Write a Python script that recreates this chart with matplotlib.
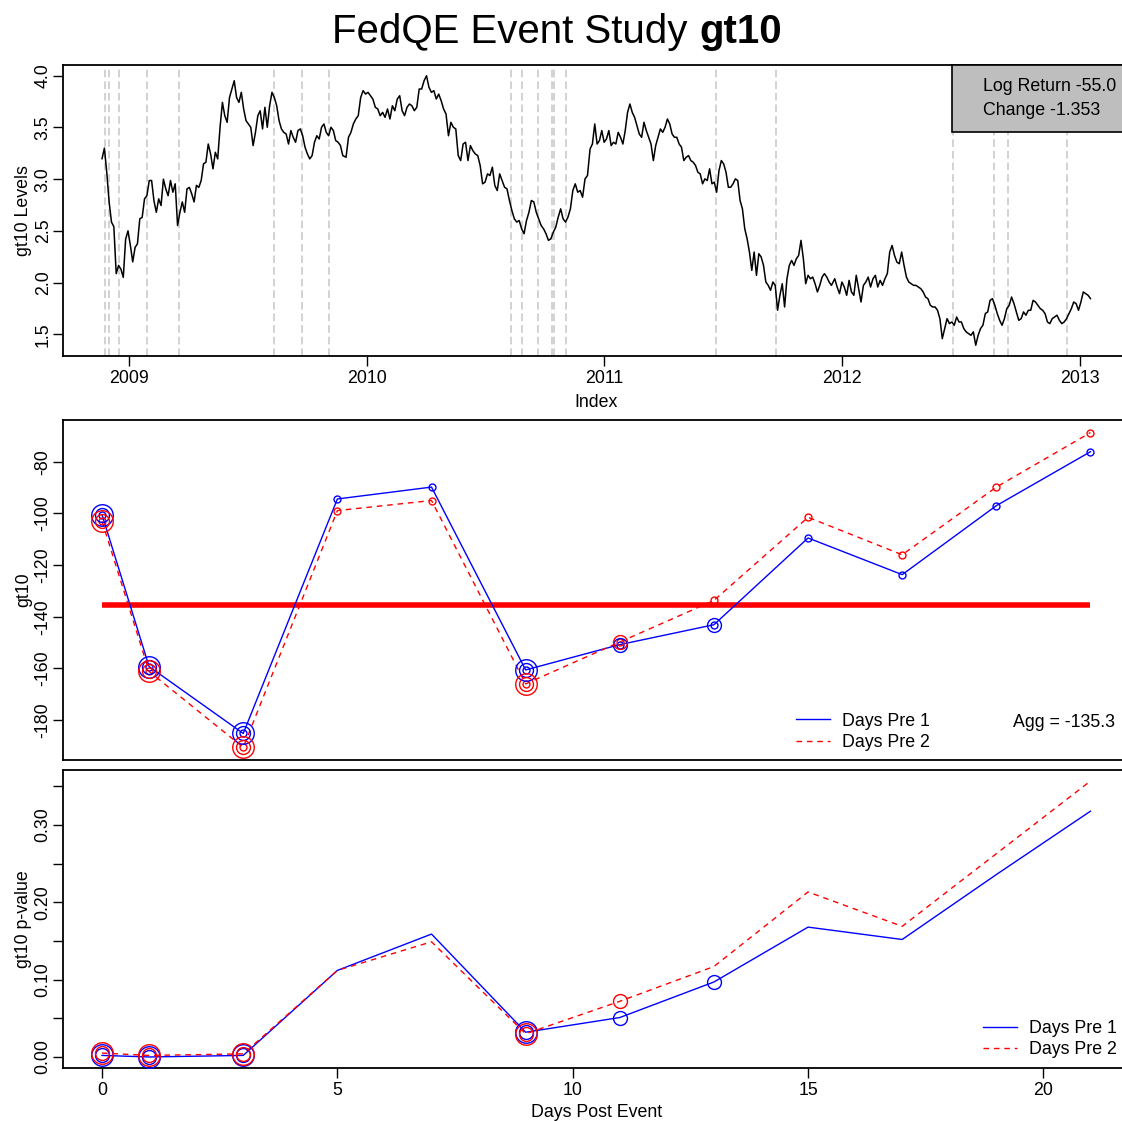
import numpy as np
import pandas as pd
import matplotlib
matplotlib.use("Agg")
import matplotlib.pyplot as plt
import matplotlib.dates as mdates
from matplotlib.lines import Line2D

plt.rcParams["font.family"] = ["Liberation Sans", "DejaVu Sans"]
plt.rcParams["axes.linewidth"] = 1.3

# ------------------------------------------------------------
# gt10 levels, four stretches (each evenly spaced in time)
# ------------------------------------------------------------
levels_a = [3.198, 3.30, 3.067, 2.78, 2.585, 2.54, 2.086, 2.166, 2.13, 2.05,
            2.42, 2.50, 2.36, 2.20, 2.34, 2.375, 2.617, 2.63, 2.81, 2.84,
            2.987, 2.987, 2.79, 2.68, 2.81, 2.745, 3.00, 2.906, 2.84, 2.987,
            2.874, 2.955, 2.552, 2.68, 2.78, 2.68, 2.906, 2.92, 2.858, 2.78,
            2.94, 2.92, 2.987, 3.148, 3.164, 3.34, 3.244, 3.10, 3.26, 3.196,
            3.502, 3.743, 3.614, 3.55, 3.79, 3.872, 3.952, 3.79, 3.743, 3.84,
            3.679, 3.566, 3.534, 3.502, 3.325, 3.453, 3.614, 3.662, 3.486, 3.695,
            3.502, 3.71, 3.84, 3.79, 3.71, 3.566, 3.486, 3.453, 3.437, 3.34,
            3.47, 3.405, 3.357, 3.47, 3.486, 3.42, 3.309, 3.244, 3.196, 3.228,
            3.357, 3.42, 3.389, 3.502, 3.534, 3.453, 3.42, 3.502, 3.47, 3.373,
            3.357, 3.325, 3.228]
levels_b = [3.212, 3.405, 3.453, 3.534, 3.582, 3.614, 3.79, 3.856, 3.823, 3.84,
            3.807, 3.775, 3.695, 3.679, 3.614, 3.646, 3.598, 3.679, 3.582, 3.71,
            3.662, 3.775, 3.807, 3.662, 3.614, 3.695, 3.727, 3.71, 3.662, 3.695,
            3.872, 3.872, 3.952, 4.0, 3.888, 3.84, 3.856, 3.775, 3.823, 3.759,
            3.679, 3.63, 3.42, 3.55, 3.502, 3.486, 3.228, 3.18, 3.34, 3.357,
            3.18, 3.325, 3.276, 3.244, 3.228, 3.132, 2.955, 2.971, 3.051, 3.035,
            3.116, 2.94, 2.89, 3.051, 2.987, 2.922, 2.906, 2.794, 2.697, 2.617,
            2.585, 2.60, 2.52, 2.472, 2.60, 2.68, 2.794, 2.78, 2.68, 2.617,
            2.552, 2.52, 2.472, 2.408, 2.424, 2.488, 2.536, 2.633, 2.713, 2.617,
            2.585, 2.633, 2.713, 2.89, 2.955, 2.874, 2.89, 2.826, 3.003, 3.035]
levels_c = [3.292, 3.34, 3.534, 3.34, 3.373, 3.47, 3.357, 3.389, 3.47, 3.325,
            3.357, 3.34, 3.453, 3.405, 3.34, 3.47, 3.646, 3.727, 3.646, 3.598,
            3.518, 3.437, 3.405, 3.55, 3.47, 3.405, 3.34, 3.18, 3.325, 3.405,
            3.486, 3.453, 3.502, 3.582, 3.534, 3.437, 3.405, 3.405, 3.34, 3.309,
            3.18, 3.212, 3.228, 3.18, 3.164, 3.132, 3.067, 3.051, 2.955, 3.003,
            2.987, 3.10, 2.955, 2.971, 2.874, 3.083, 3.18, 3.148, 3.067, 2.922,
            2.922, 2.955, 3.003, 2.987, 2.794, 2.713, 2.52, 2.424, 2.295, 2.118,
            2.295, 2.07, 2.279, 2.247, 2.166, 2.005, 1.973, 1.925, 2.005, 1.973,
            1.732, 1.877, 1.989, 1.764, 2.037, 2.166, 2.214, 2.166, 2.23, 2.263,
            2.408, 2.23, 1.989, 2.07, 2.037, 2.053, 1.989, 1.909, 1.973, 2.053,
            2.086, 2.053, 2.005, 1.973]
levels_d = [2.037, 1.957, 1.893, 2.005, 1.957, 1.877, 2.021, 1.909, 1.877, 2.07,
            1.941, 1.812, 1.973, 2.005, 2.053, 1.957, 2.037, 2.07, 1.957, 2.021,
            1.973, 2.037, 2.086, 2.295, 2.359, 2.263, 2.198, 2.182, 2.295, 2.166,
            2.053, 2.005, 1.989, 1.973, 1.973, 1.957, 1.941, 1.909, 1.86, 1.844,
            1.78, 1.764, 1.764, 1.732, 1.651, 1.458, 1.555, 1.651, 1.603, 1.619,
            1.587, 1.667, 1.619, 1.619, 1.555, 1.523, 1.507, 1.49, 1.523, 1.394,
            1.49, 1.555, 1.587, 1.70, 1.716, 1.828, 1.844, 1.78, 1.70, 1.635,
            1.587, 1.651, 1.748, 1.78, 1.86, 1.796, 1.716, 1.635, 1.651, 1.716,
            1.684, 1.732, 1.732, 1.828, 1.812, 1.78, 1.748, 1.732, 1.70, 1.619,
            1.603, 1.651, 1.667, 1.684, 1.635, 1.603, 1.619, 1.651, 1.70, 1.748,
            1.812, 1.796, 1.732, 1.812, 1.909, 1.893, 1.877, 1.845]
stretch_spans = [("2008-11-20", "2009-11-25"), ("2009-11-30", "2010-12-06"),
                 ("2010-12-10", "2011-12-16"), ("2011-12-21", "2013-01-17")]

# FedQE announcement dates
event_dates = ["2008-11-25", "2008-12-01", "2008-12-16", "2009-01-28", "2009-03-18",
               "2009-08-12", "2009-09-23", "2009-11-04", "2010-08-10", "2010-08-27",
               "2010-09-21", "2010-10-12", "2010-10-15", "2010-11-03", "2011-06-22",
               "2011-09-21", "2012-06-20", "2012-08-22", "2012-09-13", "2012-12-12"]

# cumulative event response (bp) and p-values by horizon
days_post = [0, 1, 3, 5, 7, 9, 11, 13, 15, 17, 19, 21]
resp_pre1 = [-100.5, -159.3, -185.2, -94.4, -89.8, -160.6, -150.8, -143.1, -109.5, -123.7, -97.0, -76.1]
resp_pre2 = [-103.0, -161.2, -190.6, -98.9, -95.0, -166.0, -149.8, -133.7, -101.5, -116.0, -89.8, -68.7]
pval_pre1 = [0.002, 0.000, 0.002, 0.112, 0.159, 0.032, 0.051, 0.097, 0.168, 0.152, 0.236, 0.318]
pval_pre2 = [0.005, 0.002, 0.004, 0.112, 0.149, 0.030, 0.072, 0.117, 0.2135, 0.169, 0.263, 0.357]
agg = -135.3

series_names = ["Days Pre 1", "Days Pre 2"]
series_colors = ["#0000ff", "#ff0000"]
series_dashes = [None, (4, 3.5)]

W, H = 1122, 1121
FS = 12.8


def px_box(left, top, right, bottom):
    return [left / W, 1 - bottom / H, (right - left) / W, (bottom - top) / H]


def r_lim(lo, hi):
    pad = 0.04 * (hi - lo)
    return lo - pad, hi + pad


def style_axes(ax):
    ax.tick_params(direction="out", length=7, width=1.0, labelsize=FS, color="black")
    ax.tick_params(axis="x", pad=2.9)
    ax.tick_params(axis="y", pad=0.8, labelrotation=90)
    for lab in ax.get_yticklabels():
        lab.set_va("center")
    ax.yaxis.label.set_va("center")
    ax.yaxis.set_label_coords((24 - 62.5) / (1130 - 62.5), 0.5)


levels = np.concatenate([levels_a, levels_b, levels_c, levels_d])
dates = np.concatenate([pd.date_range(s, e, periods=len(v)).values
                        for (s, e), v in zip(stretch_spans,
                                             [levels_a, levels_b, levels_c, levels_d])])
dnum = mdates.date2num(dates)

fig = plt.figure(figsize=(W / 100, H / 100), dpi=100)

# ---- levels with event dates
ax1 = fig.add_axes(px_box(62.5, 65, 1130, 356))
for d in event_dates:
    ax1.axvline(mdates.date2num(np.datetime64(d)), color="#c6c6c6", lw=1.1,
                dashes=(5, 2.6), zorder=1)
ax1.plot(dnum, levels, color="black", lw=1.1, zorder=2)
ax1.set_xlim(*r_lim(dnum.min(), dnum.max()))
ax1.set_ylim(*r_lim(levels.min(), levels.max()))
years = list(range(2009, 2014))
ax1.set_xticks([mdates.date2num(np.datetime64(f"{y}-01-01")) for y in years])
ax1.set_xticklabels([str(y) for y in years])
yt = np.arange(1.5, 4.01, 0.5)
ax1.set_yticks(yt)
ax1.set_yticklabels([f"{v:.1f}" for v in yt])
ax1.set_ylabel("gt10 Levels", fontsize=FS)
ax1.set_xlabel("Index", fontsize=FS, va="baseline")
ax1.xaxis.set_label_coords(0.5, -(407 - 356) / (356 - 65))
style_axes(ax1)

log_ret = 100 * np.log(levels[-1] / levels[0])
change = levels[-1] - levels[0]
blank = [Line2D([], [], linestyle="none")] * 2
box = ax1.legend(blank, [f"Log Return {log_ret:.1f}", f"Change {change:.3f}"],
                 loc="upper right", bbox_to_anchor=(1, 1), borderaxespad=0,
                 fontsize=FS, handlelength=1.0, handletextpad=0, borderpad=0.75,
                 labelspacing=0.35, fancybox=False, framealpha=1,
                 facecolor="#bebebe", edgecolor="black")
box.get_frame().set_linewidth(1.2)

# ---- cumulative response
ax2 = fig.add_axes(px_box(62.5, 420, 1130, 760))
ax2.plot([days_post[0], days_post[-1]], [agg, agg], color="#ff0000", lw=4,
         solid_capstyle="butt", zorder=1)


def draw_rings(ax, x, y, p, color):
    x, y, p = map(np.asarray, (x, y, p))
    for thr, ms in ((0.1, 10.0), (0.05, 15.5)):
        m = p < thr
        ax.plot(x[m], y[m], "o", mfc="none", mec=color, ms=ms, mew=1.0, zorder=3)


for vals, pv, col, dsh in zip([resp_pre1, resp_pre2], [pval_pre1, pval_pre2],
                              series_colors, series_dashes):
    kw = {"dashes": dsh} if dsh else {}
    ax2.plot(days_post, vals, color=col, lw=1.0, marker="o", mfc="none", ms=5.0,
             mew=1.0, zorder=2, **kw)
    draw_rings(ax2, days_post, vals, pv, col)

allv = resp_pre1 + resp_pre2
ax2.set_xlim(*r_lim(min(days_post), max(days_post)))
ax2.set_ylim(*r_lim(min(allv), max(allv)))
ax2.set_xticks([])
yt2 = np.arange(-180, -79, 20)
ax2.set_yticks(yt2)
ax2.set_yticklabels([str(v) for v in yt2])
ax2.set_ylabel("gt10", fontsize=FS)
style_axes(ax2)


def series_handles():
    hs = []
    for col, dsh in zip(series_colors, series_dashes):
        kw = {"dashes": dsh} if dsh else {}
        hs.append(Line2D([], [], color=col, lw=1.0, **kw))
    return hs


ax2.legend(series_handles(), series_names, loc="upper left",
           bbox_to_anchor=(796 / W, 1 - 712.5 / H), bbox_transform=fig.transFigure,
           frameon=False, fontsize=FS, handlelength=1.9, handletextpad=0.7,
           labelspacing=0.25, borderpad=0, borderaxespad=0)
fig.text(1013 / W, 1 - 726.7 / H, f"Agg = {agg:.1f}", fontsize=FS, va="baseline")

# ---- p-values
ax3 = fig.add_axes(px_box(62.5, 770, 1130, 1068))
for pv, col, dsh in zip([pval_pre1, pval_pre2], series_colors, series_dashes):
    kw = {"dashes": dsh} if dsh else {}
    ax3.plot(days_post, pv, color=col, lw=1.0, zorder=2, **kw)
    draw_rings(ax3, days_post, pv, pv, col)

allp = pval_pre1 + pval_pre2
ax3.set_xlim(*r_lim(min(days_post), max(days_post)))
ax3.set_ylim(*r_lim(min(allp), max(allp)))
ax3.set_xticks([0, 5, 10, 15, 20])
yt3 = np.arange(0, 0.351, 0.05)
ax3.set_yticks(yt3)
ax3.set_yticklabels([f"{v:.2f}" if i % 2 == 0 else "" for i, v in enumerate(yt3)])
ax3.set_ylabel("gt10 p-value", fontsize=FS)
ax3.set_xlabel("Days Post Event", fontsize=FS, va="baseline")
ax3.xaxis.set_label_coords(0.5, -(1117 - 1068) / (1068 - 770))
style_axes(ax3)
ax3.legend(series_handles(), series_names, loc="upper left",
           bbox_to_anchor=(983 / W, 1 - 1020 / H), bbox_transform=fig.transFigure,
           frameon=False, fontsize=FS, handlelength=1.9, handletextpad=0.7,
           labelspacing=0.25, borderpad=0, borderaxespad=0)

# ---- title, plain part plus bold series name
TS = 29
t1 = fig.text(0, 1 - 43 / H, "FedQE Event Study", fontsize=TS, va="baseline")
t2 = fig.text(0, 1 - 43 / H, "gt10", fontsize=TS, fontweight="bold", va="baseline")
rend = fig.canvas.get_renderer()
w1 = t1.get_window_extent(rend).width
w2 = t2.get_window_extent(rend).width
gap = 0.278 * TS * 100 / 72
x0 = 557 - (w1 + gap + w2) / 2
t1.set_x(x0 / W)
t2.set_x((x0 + w1 + gap) / W)

fig.savefig("out.png", dpi=100)
